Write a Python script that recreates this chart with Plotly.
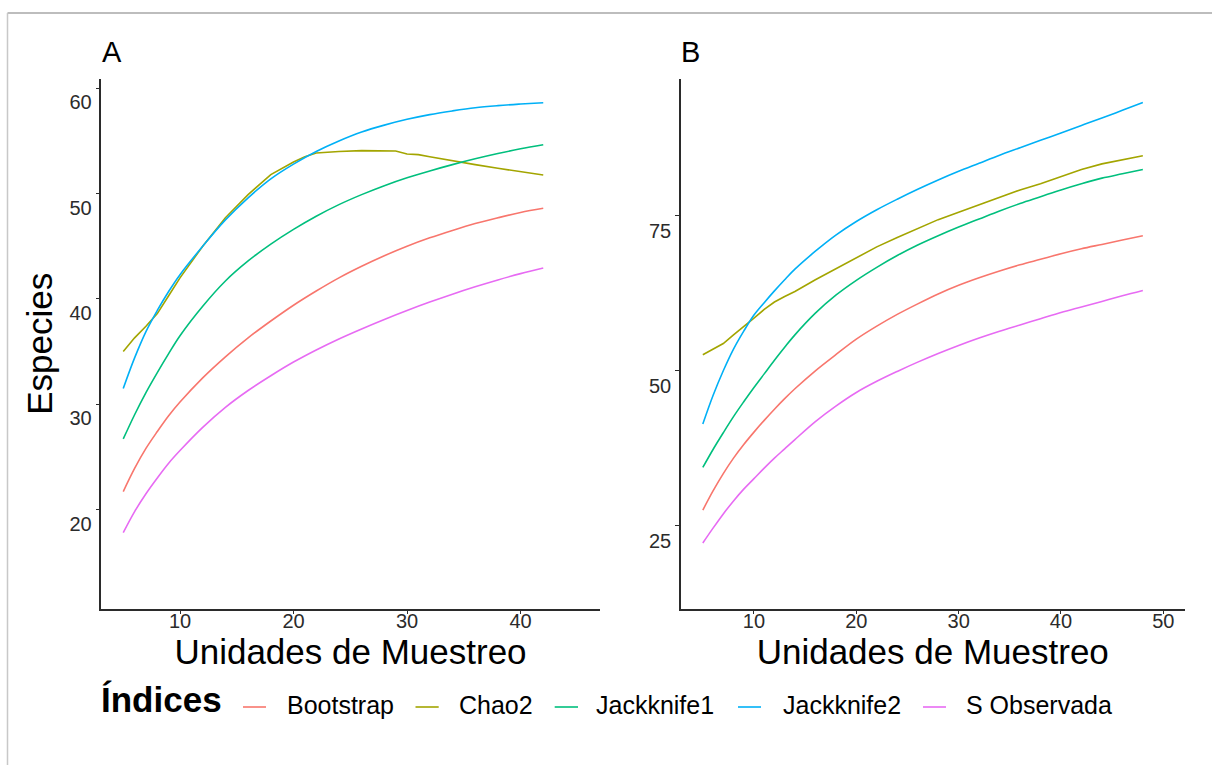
import plotly.graph_objects as go

# ---------------- data ----------------
series_names = ["Bootstrap", "Chao2", "Jackknife1", "Jackknife2", "S Observada"]
series_colors = ["#F8766D", "#A3A500", "#00BF7D", "#00B0F6", "#E76BF3"]

# Panel A
x_a = [5, 6, 7, 8, 9, 10, 12, 14, 16, 18, 20, 22, 24, 26, 28, 30, 32, 34, 36, 38, 40, 42]
x_a_chao2 = [5, 6, 7, 8, 9, 10, 12, 14, 16, 18, 20, 21, 22, 23, 24, 26, 28, 29, 30, 31, 32, 34, 36, 38, 40, 42]
a_bootstrap = [21.7, 23.9, 25.8, 27.4, 28.9, 30.2, 32.5, 34.5, 36.3, 37.9, 39.4, 40.75, 42.0, 43.1, 44.1, 45.0, 45.8, 46.5, 47.15, 47.7, 48.2, 48.6]
a_chao2 = [35.0, 36.3, 37.4, 38.6, 40.3, 42.0, 45.0, 47.7, 49.9, 51.8, 53.0, 53.5, 53.85, 53.95, 54.0, 54.08, 54.08, 54.05, 53.76, 53.7, 53.5, 53.1, 52.75, 52.4, 52.1, 51.77]
a_jack1 = [26.7, 29.0, 31.1, 33.0, 34.8, 36.5, 39.3, 41.7, 43.6, 45.2, 46.6, 47.85, 48.95, 49.9, 50.75, 51.5, 52.15, 52.75, 53.3, 53.8, 54.25, 54.64]
a_jack2 = [31.5, 34.4, 36.9, 38.9, 40.7, 42.3, 45.0, 47.5, 49.6, 51.4, 52.8, 54.0, 55.0, 55.85, 56.5, 57.05, 57.5, 57.85, 58.15, 58.35, 58.5, 58.63]
a_sobs = [17.8, 19.8, 21.5, 23.0, 24.4, 25.6, 27.8, 29.7, 31.3, 32.7, 34.0, 35.15, 36.2, 37.15, 38.05, 38.9, 39.7, 40.45, 41.15, 41.8, 42.4, 42.93]

# Panel B
x_b = [5, 6, 7, 8, 9, 10, 11, 12, 13, 14, 16, 18, 20, 22, 24, 26, 28, 30, 32, 34, 36, 38, 40, 42, 44, 46, 48]
b_bootstrap = [27.5, 30.6, 33.4, 35.9, 38.1, 40.1, 42.0, 43.8, 45.5, 47.1, 50.0, 52.6, 55.1, 57.2, 59.1, 60.8, 62.4, 63.8, 65.0, 66.1, 67.1, 68.0, 68.9, 69.7, 70.4, 71.1, 71.8]
b_chao2 = [52.6, 53.5, 54.4, 55.8, 57.1, 58.5, 59.9, 61.1, 62.0, 62.8, 64.7, 66.5, 68.3, 70.0, 71.5, 73.0, 74.4, 75.6, 76.8, 78.0, 79.2, 80.2, 81.3, 82.5, 83.4, 84.1, 84.7]
b_jack1 = [34.4, 37.3, 40.0, 42.6, 45.0, 47.3, 49.5, 51.7, 53.8, 55.8, 59.3, 62.2, 64.6, 66.7, 68.6, 70.3, 71.8, 73.2, 74.5, 75.8, 77.0, 78.1, 79.2, 80.2, 81.1, 81.8, 82.5]
b_jack2 = [41.4, 46.0, 50.0, 53.5, 56.4, 59.0, 61.0, 62.9, 64.7, 66.4, 69.3, 71.9, 74.1, 76.0, 77.7, 79.3, 80.8, 82.2, 83.5, 84.8, 86.0, 87.2, 88.4, 89.6, 90.8, 92.05, 93.3]
b_sobs = [22.2, 24.6, 26.9, 29.0, 30.9, 32.6, 34.3, 35.9, 37.4, 38.9, 41.8, 44.3, 46.5, 48.3, 49.9, 51.4, 52.8, 54.1, 55.3, 56.4, 57.4, 58.4, 59.4, 60.3, 61.2, 62.1, 62.95]

a_ticks_x = [10, 20, 30, 40]
a_ticks_y = [20, 30, 40, 50, 60]
b_ticks_x = [10, 20, 30, 40, 50]
b_ticks_y = [25, 50, 75]

panel_labels = ["A", "B"]
x_title = "Unidades de Muestreo"
y_title = "Especies"
legend_title = "Índices"

# ---------------- figure ----------------
W, H = 1212, 765
FONT = "Liberation Sans, Arial, sans-serif"


def fx(p):
    return p / W


def fy(p):
    return 1 - p / H


panel_a = {
    "Bootstrap": (x_a, a_bootstrap),
    "Chao2": (x_a_chao2, a_chao2),
    "Jackknife1": (x_a, a_jack1),
    "Jackknife2": (x_a, a_jack2),
    "S Observada": (x_a, a_sobs),
}
panel_b = {
    "Bootstrap": (x_b, b_bootstrap),
    "Chao2": (x_b, b_chao2),
    "Jackknife1": (x_b, b_jack1),
    "Jackknife2": (x_b, b_jack2),
    "S Observada": (x_b, b_sobs),
}

fig = go.Figure()
for name, color in zip(series_names, series_colors):
    shape = "linear" if name == "Chao2" else "spline"
    xs, ys = panel_a[name]
    fig.add_trace(go.Scatter(x=xs, y=ys, mode="lines", name=name, legendgroup=name,
                             line=dict(color=color, width=1.6, shape=shape),
                             xaxis="x", yaxis="y", showlegend=False))
    xs, ys = panel_b[name]
    fig.add_trace(go.Scatter(x=xs, y=ys, mode="lines", name=name, legendgroup=name,
                             line=dict(color=color, width=1.6, shape=shape),
                             xaxis="x2", yaxis="y2", showlegend=False))

axis_common = dict(
    showline=True, linecolor="#2b2b2b", linewidth=1.5,
    ticks="outside", ticklen=3.5, tickwidth=1.2, tickcolor="#2b2b2b",
    showgrid=False, zeroline=False, automargin=False,
    tickfont=dict(family=FONT, size=20, color="#2b2b2b"),
)

y_dom = [fy(608.5), fy(79)]

# ---- legend drawn in the ggplot style (title on the left, short keys, wide gaps) ----
legend_key_x = [(243, 266), (415.5, 438.7), (554.7, 578), (738, 761), (923, 946)]
legend_text_x = [284.5, 457, 593.5, 780.5, 964]
legend_key_y = 707
legend_text_bottom = 721.3

annotations = [
    dict(text=panel_labels[0], xref="paper", yref="paper", x=fx(100), y=fy(70),
         xanchor="left", yanchor="bottom", showarrow=False,
         font=dict(family=FONT, size=29, color="black")),
    dict(text=panel_labels[1], xref="paper", yref="paper", x=fx(679), y=fy(70),
         xanchor="left", yanchor="bottom", showarrow=False,
         font=dict(family=FONT, size=29, color="black")),
    dict(text="<b>" + legend_title + "</b>", xref="paper", yref="paper", x=fx(98.5), y=fy(721.4),
         xanchor="left", yanchor="bottom", showarrow=False,
         font=dict(family=FONT, size=35, color="black")),
]
shapes = [
    dict(type="line", xref="paper", yref="paper", x0=fx(7.5), x1=1.0, y0=fy(13), y1=fy(13),
         line=dict(color="#bdbdbd", width=2)),
    dict(type="line", xref="paper", yref="paper", x0=fx(7.5), x1=fx(7.5), y0=fy(13), y1=0,
         line=dict(color="#c8c8c8", width=1.5)),
]
for name, color, (k0, k1), tx in zip(series_names, series_colors, legend_key_x, legend_text_x):
    shapes.append(dict(type="line", xref="paper", yref="paper", x0=fx(k0), x1=fx(k1),
                       y0=fy(legend_key_y), y1=fy(legend_key_y), line=dict(color=color, width=1.6)))
    annotations.append(dict(text=name, xref="paper", yref="paper", x=fx(tx), y=fy(legend_text_bottom),
                            xanchor="left", yanchor="bottom", showarrow=False,
                            font=dict(family=FONT, size=25, color="black")))

fig.update_layout(
    width=W, height=H,
    margin=dict(l=0, r=0, t=0, b=0, autoexpand=False),
    paper_bgcolor="white", plot_bgcolor="white",
    font=dict(family=FONT, color="black"),
    showlegend=False,
    xaxis=dict(axis_common, domain=[fx(101), fx(600)], range=[3.04, 47.0],
               tickvals=a_ticks_x, anchor="y", ticklabelstandoff=-10,
               title=dict(text=x_title, font=dict(size=35, color="black"), standoff=0)),
    yaxis=dict(axis_common, domain=y_dom, range=[10.6, 60.88],
               tickvals=a_ticks_y, anchor="x", ticklabelshift=14, ticklabelstandoff=0,
               title=dict(text=y_title, font=dict(size=35, color="black"), standoff=6)),
    xaxis2=dict(axis_common, domain=[fx(680.5), fx(1185)], range=[2.82, 52.12],
                tickvals=b_ticks_x, anchor="y2", ticklabelstandoff=-10,
                title=dict(text=x_title, font=dict(size=35, color="black"), standoff=0)),
    yaxis2=dict(axis_common, domain=y_dom, range=[11.63, 97.1],
                tickvals=b_ticks_y, anchor="x2", ticklabelshift=15, ticklabelstandoff=0),
    annotations=annotations,
    shapes=shapes,
)

# the page body gets no default 8px margin, so the 1212x765 figure fills the window exactly
fig.write_html("out.html", config={"displayModeBar": False},
               post_script="document.body.style.margin='0px';")
